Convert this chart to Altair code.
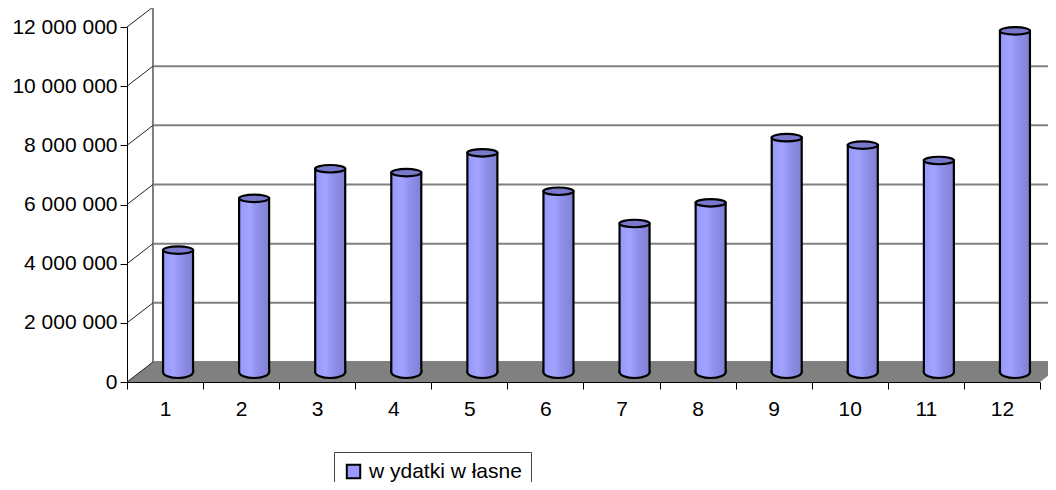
import altair as alt
import pandas as pd

months = ["1", "2", "3", "4", "5", "6", "7", "8", "9", "10", "11", "12"]
values = [4120000, 5870000, 6870000, 6740000, 7410000, 6110000,
          5020000, 5720000, 7920000, 7670000, 7150000, 11530000]
series_name = "w ydatki w łasne"
tick_values = [0, 2000000, 4000000, 6000000, 8000000, 10000000, 12000000]

W, H = 913, 355
DX, DY = 26, -20          # depth offset of back wall
BX, BY = 13, -10          # bars sit at middle depth

df = pd.DataFrame({"m": months, "v": values, "s": [series_name] * len(months)})
ticks = pd.DataFrame({"t": tick_values})
one = pd.DataFrame({"k": [0]})

yscale = alt.Scale(domain=[0, 12000000], nice=False)
xscale = alt.Scale(paddingInner=0, paddingOuter=0)

yaxis = alt.Axis(values=tick_values, tickSize=7, grid=False, title=None,
                 domainColor="black", tickColor="black",
                 labelFontSize=21, labelColor="black", labelPadding=3,
                 labelExpr="replace(format(datum.value, ','), regexp(',', 'g'), ' ')")
xaxis = alt.Axis(labelAngle=0, tickBand="extent", tickSize=7, title=None,
                 domainColor="black", tickColor="black",
                 labelFontSize=21, labelColor="black", labelPadding=9)

grad = alt.Gradient(
    gradient="linear", x1=0, x2=1, y1=0, y2=0,
    stops=[alt.GradientStop(color="#9898FA", offset=0),
           alt.GradientStop(color="#A2A2FF", offset=0.35),
           alt.GradientStop(color="#9393F0", offset=0.55),
           alt.GradientStop(color="#8686DC", offset=0.85),
           alt.GradientStop(color="#8080D4", offset=1)])

floor_path = f"M0,0 L{W},0 L{W+DX},{DY} L{DX},{DY} Z"
floor = alt.Chart(one).mark_point(
    shape=floor_path, size=4, filled=True, fill="#808080", opacity=1, strokeWidth=0
).encode(x=alt.value(0), y=alt.value(H))

wall_v = alt.Chart(one).mark_rule(color="#808080", strokeWidth=2, yOffset=DY, y2Offset=DY).encode(
    x=alt.value(DX),
    y=alt.datum(12000000, scale=yscale, axis=yaxis),
    y2=alt.datum(0))

grid = alt.Chart(ticks).mark_rule(color="#808080", strokeWidth=2, yOffset=DY).encode(
    y=alt.Y("t:Q", scale=yscale, axis=yaxis),
    x=alt.value(DX), x2=alt.value(W + DX + 40))

diag = alt.Chart(ticks).mark_rule(color="#222222", strokeWidth=1, y2Offset=DY).encode(
    y=alt.Y("t:Q", scale=yscale, axis=yaxis),
    y2=alt.Y2("t:Q"),
    x=alt.value(0), x2=alt.value(DX))

bars = alt.Chart(df).mark_bar(
    width=30, fill=grad, stroke="black", strokeWidth=2.2,
    xOffset=BX, x2Offset=BX, yOffset=BY, y2Offset=BY
).encode(
    x=alt.X("m:N", sort=months, scale=xscale, axis=xaxis),
    y=alt.Y("v:Q", scale=yscale, axis=yaxis),
)

bottom_path = "M-1,-0.15 L-1,0 A1,0.4 0 0,0 1,0 L1,-0.15"
bottom = alt.Chart(df).mark_point(
    shape=bottom_path, size=900, filled=True, fill=grad, stroke="black",
    strokeWidth=2.2, opacity=1, xOffset=BX, yOffset=BY
).encode(x=alt.X("m:N", sort=months, scale=xscale, axis=xaxis),
         y=alt.datum(0, scale=yscale, axis=yaxis))

top_path = "M-1,0 A1,0.25 0 1,0 1,0 A1,0.25 0 1,0 -1,0 Z"
top = alt.Chart(df).mark_point(
    shape=top_path, size=900, filled=True, fill="#7878CC", stroke="black",
    strokeWidth=2.2, opacity=1, xOffset=BX, yOffset=BY
).encode(x=alt.X("m:N", sort=months, scale=xscale, axis=xaxis),
         y=alt.Y("v:Q", scale=yscale, axis=yaxis))

legend_layer = alt.Chart(df).mark_square(size=0, opacity=1).encode(
    x=alt.value(0), y=alt.value(0),
    color=alt.Color("s:N", scale=alt.Scale(domain=[series_name], range=["#9999FF"]),
                    legend=alt.Legend(title=None, orient="none", legendX=207, legendY=425,
                                      symbolType="square", symbolSize=180,
                                      symbolStrokeColor="black", symbolStrokeWidth=2,
                                      symbolFillColor="#9999FF", symbolOpacity=1,
                                      labelFontSize=21, labelColor="black",
                                      labelOffset=5, padding=9,
                                      strokeColor="#444444", fillColor="white",
                                      rowPadding=12)))

chart = alt.layer(floor, wall_v, grid, diag, bars, bottom, top, legend_layer).properties(
    width=W, height=H,
    padding={"left": 119, "top": 19, "right": 8, "bottom": 100},
    autosize=alt.AutoSizeParams(type="none"),
).configure(font="Liberation Sans").configure_view(stroke=None)

chart.save("out.html", embed_options={"renderer": "svg", "actions": False})
